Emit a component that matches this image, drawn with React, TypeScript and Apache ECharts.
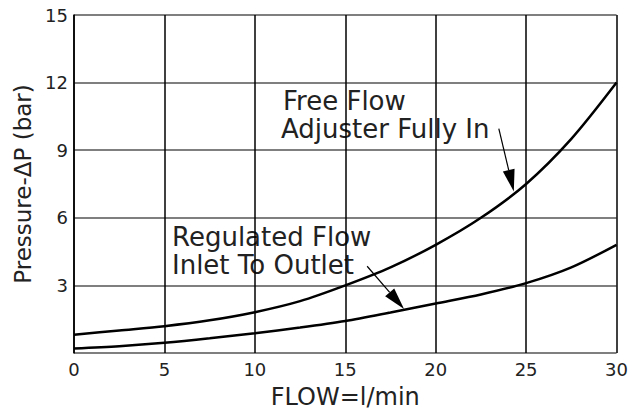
import React, { useEffect, useRef } from "react";
import * as echarts from "echarts";

const flowX = [0, 2.5, 5, 7.5, 10, 12.5, 15, 17.5, 20, 22.5, 25, 27.5, 30];
const freeFlow = [0.81, 1.0, 1.19, 1.45, 1.81, 2.3, 3.0, 3.8, 4.8, 6.0, 7.5, 9.5, 12.0];
const regulatedFlow = [0.2, 0.3, 0.45, 0.65, 0.88, 1.13, 1.42, 1.8, 2.2, 2.6, 3.1, 3.8, 4.8];
// [fromX, fromY, tipX, tipY]
const arrows = [
  [23.49, 9.96, 24.32, 7.17],
  [16.21, 3.85, 18.25, 1.95],
];

const FONT = "DejaVu Sans";
const TXT = "#222";

export default function App() {
  const ref = useRef<HTMLDivElement>(null);
  useEffect(() => {
    if (!ref.current) return;
    const chart = echarts.init(ref.current, null, { renderer: "svg" });
    chart.setOption({
      animation: false,
      backgroundColor: "#fff",
      grid: { left: 74, right: 13, top: 15, bottom: 60 },
      xAxis: {
        type: "value",
        min: 0,
        max: 30,
        interval: 5,
        name: "FLOW=l/min",
        nameLocation: "middle",
        nameGap: 32,
        nameTextStyle: { fontFamily: FONT, fontSize: 24, color: TXT },
        axisLine: { show: false },
        axisTick: { show: false },
        axisLabel: { fontFamily: FONT, fontSize: 18, color: TXT, margin: 7 },
        splitLine: { show: true, lineStyle: { color: "#000", width: 1.5 } },
      },
      yAxis: {
        type: "value",
        min: 0,
        max: 15,
        interval: 3,
        name: "Pressure-ΔP (bar)",
        nameLocation: "middle",
        nameGap: 37,
        nameTextStyle: { fontFamily: FONT, fontSize: 23, color: TXT },
        axisLine: { show: true, lineStyle: { color: "#000", width: 1.5 } },
        axisTick: { show: false },
        axisLabel: {
          fontFamily: FONT,
          fontSize: 18,
          color: TXT,
          margin: 6,
          formatter: (v: number) => (v === 0 ? "" : String(v)),
        },
        splitLine: { show: true, lineStyle: { color: "#555", width: 1.5 } },
      },
      series: [
        {
          type: "line",
          data: flowX.map((x, i) => [x, freeFlow[i]]),
          smooth: 0.3,
          showSymbol: false,
          lineStyle: { color: "#000", width: 2.5 },
          silent: true,
        },
        {
          type: "line",
          data: flowX.map((x, i) => [x, regulatedFlow[i]]),
          smooth: 0.3,
          showSymbol: false,
          lineStyle: { color: "#000", width: 2.5 },
          silent: true,
        },
        {
          type: "custom",
          silent: true,
          data: arrows,
          encode: { x: [0, 2], y: [1, 3] },
          renderItem: (params: any, api: any) => {
            const p1 = api.coord([api.value(0), api.value(1)]);
            const p2 = api.coord([api.value(2), api.value(3)]);
            const dx = p2[0] - p1[0];
            const dy = p2[1] - p1[1];
            const len = Math.sqrt(dx * dx + dy * dy);
            const ux = dx / len;
            const uy = dy / len;
            const headLen = 22;
            const halfW = 6;
            const bx = p2[0] - ux * headLen;
            const by = p2[1] - uy * headLen;
            return {
              type: "group",
              children: [
                {
                  type: "line",
                  shape: { x1: p1[0], y1: p1[1], x2: bx, y2: by },
                  style: { stroke: "#000", lineWidth: 1.2 },
                },
                {
                  type: "polygon",
                  shape: {
                    points: [
                      [p2[0], p2[1]],
                      [bx - uy * halfW, by + ux * halfW],
                      [bx + uy * halfW, by - ux * halfW],
                    ],
                  },
                  style: { fill: "#000" },
                },
              ],
            };
          },
        },
      ],
      graphic: [
        { type: "text", left: 283, top: 88, style: { text: "Free Flow", font: `26px '${FONT}'`, fill: TXT } },
        { type: "text", left: 281, top: 116, style: { text: "Adjuster Fully In", font: `26px '${FONT}'`, fill: TXT } },
        { type: "text", left: 172, top: 224, style: { text: "Regulated Flow", font: `26px '${FONT}'`, fill: TXT } },
        { type: "text", left: 172, top: 252, style: { text: "Inlet To Outlet", font: `26px '${FONT}'`, fill: TXT } },
      ],
    });
    return () => chart.dispose();
  }, []);
  return (
    <div
      ref={ref}
      style={{ position: "fixed", left: 0, top: 0, width: 631, height: 414, background: "#fff" }}
    />
  );
}
